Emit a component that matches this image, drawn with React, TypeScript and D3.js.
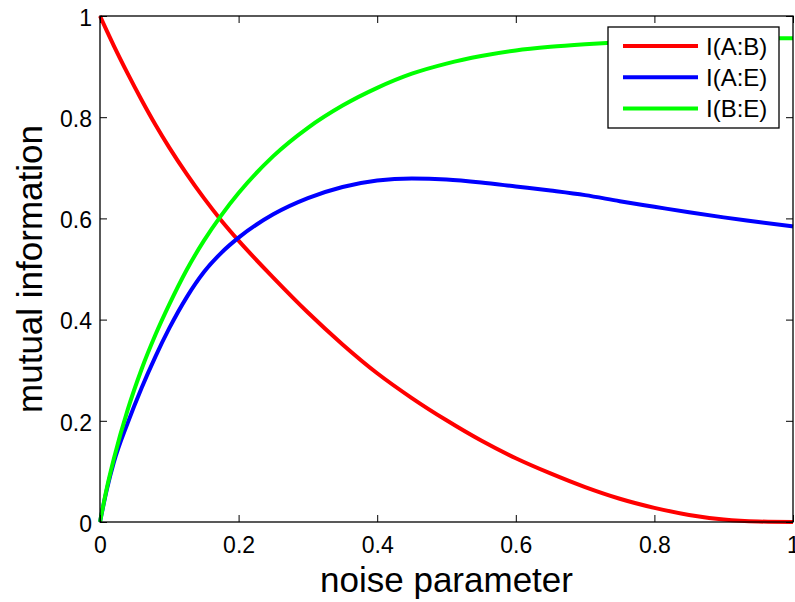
import { useEffect, useRef } from "react";
import * as d3 from "d3";

// noise parameter samples
const noise = [
    0, 0.01, 0.02, 0.04, 0.06, 0.08, 0.1, 0.125, 0.15, 0.175, 0.2, 0.25, 0.3, 0.35, 0.4,
    0.45, 0.5, 0.55, 0.6, 0.65, 0.7, 0.75, 0.8, 0.85, 0.9, 0.95, 1.0,
];

// I(A:B)
const iAB = [
    1.0, 0.97, 0.941, 0.886, 0.834, 0.785, 0.74, 0.688, 0.64, 0.596, 0.556, 0.483, 0.414,
    0.351, 0.294, 0.245, 0.201, 0.161, 0.126, 0.096, 0.069, 0.046, 0.028, 0.014, 0.005, 0.001, 0,
];

// I(A:E)
const iAE = [
    0, 0.065, 0.118, 0.196, 0.265, 0.327, 0.383, 0.444, 0.494, 0.532, 0.562, 0.608, 0.64,
    0.662, 0.675, 0.679, 0.677, 0.671, 0.663, 0.655, 0.646, 0.634, 0.623, 0.612, 0.602, 0.593, 0.584,
];

// I(B:E)
const iBE = [
    0, 0.068, 0.125, 0.222, 0.302, 0.37, 0.43, 0.498, 0.556, 0.606, 0.65, 0.723, 0.779,
    0.823, 0.858, 0.886, 0.906, 0.921, 0.932, 0.939, 0.944, 0.948, 0.951, 0.953, 0.955, 0.956, 0.956,
];

const seriesNames = ["I(A:B)", "I(A:E)", "I(B:E)"];
const seriesColors = ["#ff0000", "#0000ff", "#00ff00"];
const tickValues = [0, 0.2, 0.4, 0.6, 0.8, 1];

const FONT = "'Liberation Sans', Arial, Helvetica, sans-serif";

const App = () => {
    const chartRef = useRef<SVGSVGElement | null>(null);

    useEffect(() => {
        if (!chartRef.current) return;

        const svg = d3.select(chartRef.current);
        svg.selectAll("*").remove();

        const width = 795;
        const height = 602;
        const margin = { top: 16, right: 2, bottom: 80, left: 100 };
        const innerW = width - margin.left - margin.right;
        const innerH = height - margin.top - margin.bottom;

        const x = d3.scaleLinear().domain([0, 1]).range([margin.left, margin.left + innerW]);
        const y = d3.scaleLinear().domain([0, 1]).range([margin.top + innerH, margin.top]);

        const series = [iAB, iAE, iBE];

        // Data lines
        const line = d3
            .line<number>()
            .x((_, i) => x(noise[i]))
            .y((d) => y(d))
            .curve(d3.curveMonotoneX);

        series.forEach((vals, k) => {
            svg.append("path")
                .datum(vals)
                .attr("d", line)
                .attr("fill", "none")
                .attr("stroke", seriesColors[k])
                .attr("stroke-width", 4)
                .attr("stroke-linejoin", "round");
        });

        // Axes with inward ticks (box style)
        const fmt = (d: d3.NumberValue) => String(d);
        const styleAxis = (g: d3.Selection<SVGGElement, unknown, null, undefined>, showText: boolean) => {
            g.select(".domain").remove();
            g.selectAll("line").attr("stroke", "#000").attr("stroke-width", 1);
            g.selectAll("text")
                .attr("fill", "#000")
                .style("font-family", FONT)
                .style("font-size", "23px");
            if (!showText) g.selectAll("text").remove();
        };

        svg.append("g")
            .attr("transform", `translate(0, ${y(0)})`)
            .call(d3.axisBottom(x).tickValues(tickValues).tickFormat(fmt).tickSizeInner(-7).tickSizeOuter(0).tickPadding(15))
            .call((g) => styleAxis(g, true));

        svg.append("g")
            .attr("transform", `translate(0, ${y(1)})`)
            .call(d3.axisTop(x).tickValues(tickValues).tickSizeInner(-7).tickSizeOuter(0))
            .call((g) => styleAxis(g, false));

        svg.append("g")
            .attr("transform", `translate(${x(0)}, 0)`)
            .call(d3.axisLeft(y).tickValues(tickValues).tickFormat(fmt).tickSizeInner(-7).tickSizeOuter(0).tickPadding(8))
            .call((g) => {
                styleAxis(g, true);
                g.selectAll("text").attr("dy", "0.4em");
            });

        svg.append("g")
            .attr("transform", `translate(${x(1)}, 0)`)
            .call(d3.axisRight(y).tickValues(tickValues).tickSizeInner(-7).tickSizeOuter(0))
            .call((g) => styleAxis(g, false));

        // Axes box
        svg.append("rect")
            .attr("x", x(0))
            .attr("y", y(1))
            .attr("width", x(1) - x(0))
            .attr("height", y(0) - y(1))
            .attr("fill", "none")
            .attr("stroke", "#000")
            .attr("stroke-width", 1.3);

        // Axis labels
        svg.append("text")
            .attr("x", (x(0) + x(1)) / 2)
            .attr("y", 592)
            .attr("text-anchor", "middle")
            .style("font-family", FONT)
            .style("font-size", "35px")
            .text("noise parameter");

        svg.append("text")
            .attr("transform", `translate(42, ${(y(0) + y(1)) / 2}) rotate(-90)`)
            .attr("text-anchor", "middle")
            .style("font-family", FONT)
            .style("font-size", "35px")
            .text("mutual information");

        // Legend
        const legend = svg.append("g").attr("transform", "translate(608, 27)");
        legend.append("rect")
            .attr("width", 171)
            .attr("height", 101)
            .attr("fill", "#fff")
            .attr("stroke", "#000")
            .attr("stroke-width", 1.3);

        seriesNames.forEach((name, k) => {
            const ry = 19 + k * 31.3;
            legend.append("line")
                .attr("x1", 15)
                .attr("x2", 90)
                .attr("y1", ry)
                .attr("y2", ry)
                .attr("stroke", seriesColors[k])
                .attr("stroke-width", 4);
            legend.append("text")
                .attr("x", 98)
                .attr("y", ry)
                .attr("dy", "0.36em")
                .style("font-family", FONT)
                .style("font-size", "24px")
                .text(name);
        });
    }, []);

    return (
        <svg
            ref={chartRef}
            width={795}
            height={602}
            style={{ position: "absolute", left: 0, top: 0, background: "#fff" }}
        ></svg>
    );
};

export default App;
